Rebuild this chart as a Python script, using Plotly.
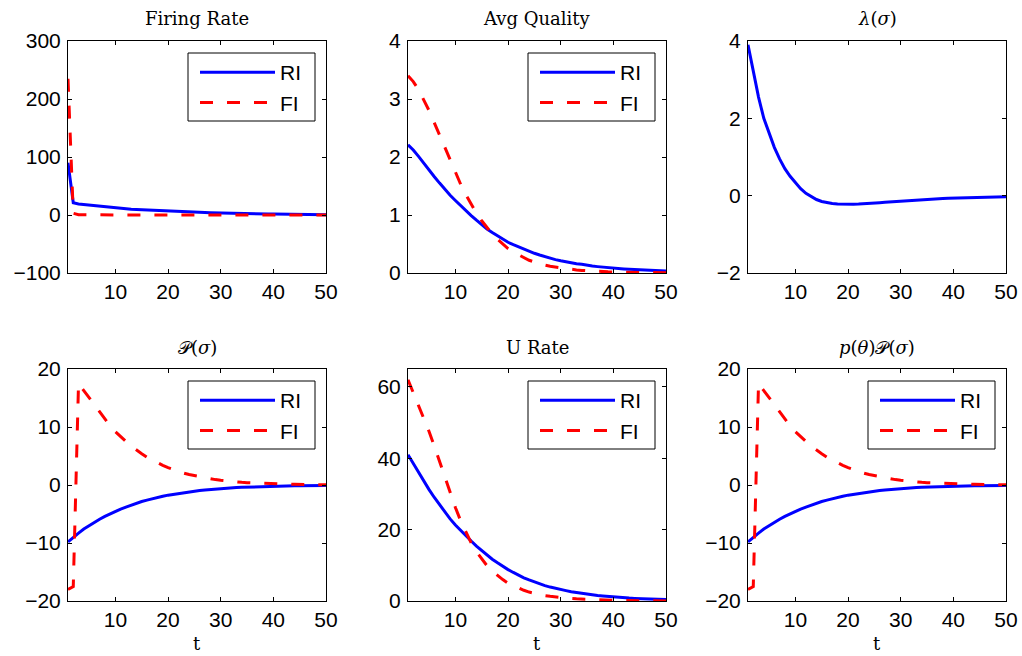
import plotly.graph_objects as go

W, H = 1022, 656

t = list(range(1, 51))

firing_ri = [90, 21, 19, 18, 17, 16, 15, 14, 13, 12, 11.5, 11, 10, 9.5, 9, 8.5, 8, 7.5, 7, 6.5,
             6, 5.7, 5.3, 5, 4.7, 4.4, 4.1, 3.8, 3.5, 3.3, 3.1, 2.9, 2.7, 2.5, 2.3, 2.2, 2.0, 1.9, 1.8, 1.7,
             1.5, 1.4, 1.3, 1.2, 1.1, 1.0, 0.9, 0.8, 0.7, 0.6]
firing_fi = [235, 3, 0.5, 0.3, 0.2, 0.1, 0.1, 0.05, 0.05, 0, 0, 0, 0, 0, 0, 0, 0, 0, 0, 0,
             0, 0, 0, 0, 0, 0, 0, 0, 0, 0, 0, 0, 0, 0, 0, 0, 0, 0, 0, 0,
             0, 0, 0, 0, 0, 0, 0, 0, 0, 0]

quality_ri = [2.21, 2.12, 2.01, 1.90, 1.78, 1.66, 1.55, 1.44, 1.34, 1.25, 1.16, 1.07, 0.99, 0.91, 0.83,
              0.76, 0.70, 0.64, 0.58, 0.53, 0.49, 0.45, 0.41, 0.37, 0.34, 0.31, 0.28, 0.26, 0.23, 0.21,
              0.19, 0.18, 0.16, 0.15, 0.13, 0.12, 0.11, 0.10, 0.09, 0.085, 0.078, 0.07, 0.064, 0.058,
              0.053, 0.048, 0.044, 0.04, 0.036, 0.033]
quality_fi = [3.40, 3.30, 3.16, 2.99, 2.80, 2.59, 2.38, 2.16, 1.94, 1.73, 1.53, 1.35, 1.18, 1.03, 0.90,
              0.78, 0.67, 0.58, 0.50, 0.42, 0.36, 0.31, 0.26, 0.22, 0.19, 0.16, 0.135, 0.115, 0.10, 0.085,
              0.072, 0.062, 0.053, 0.045, 0.038, 0.033, 0.028, 0.024, 0.02, 0.017, 0.015, 0.013, 0.011,
              0.009, 0.008, 0.007, 0.006, 0.005, 0.004, 0.004]

lambda_ri = [3.9, 3.2, 2.55, 2.0, 1.6, 1.25, 0.95, 0.7, 0.5, 0.33, 0.18, 0.06, -0.03, -0.1, -0.15,
             -0.18, -0.2, -0.215, -0.22, -0.225, -0.22, -0.215, -0.21, -0.2, -0.19, -0.18, -0.17, -0.16,
             -0.15, -0.14, -0.13, -0.12, -0.11, -0.1, -0.095, -0.09, -0.08, -0.075, -0.07, -0.065,
             -0.06, -0.055, -0.05, -0.045, -0.04, -0.04, -0.035, -0.03, -0.03, -0.025]

p_ri = [-9.8, -9.0, -8.3, -7.6, -7.0, -6.4, -5.9, -5.4, -4.95, -4.55, -4.15, -3.8, -3.45, -3.15, -2.85,
        -2.6, -2.35, -2.15, -1.95, -1.75, -1.6, -1.45, -1.3, -1.18, -1.06, -0.95, -0.86, -0.77, -0.69,
        -0.62, -0.56, -0.5, -0.45, -0.4, -0.36, -0.32, -0.29, -0.26, -0.23, -0.21, -0.19, -0.17, -0.15,
        -0.13, -0.12, -0.11, -0.1, -0.09, -0.08, -0.07]
p_fi = [-18, -17.5, 17.5, 16.3, 15.0, 13.7, 12.5, 11.3, 10.2, 9.2, 8.3, 7.5, 6.7, 6.0, 5.4, 4.8, 4.3,
        3.8, 3.4, 3.0, 2.65, 2.35, 2.05, 1.8, 1.6, 1.4, 1.22, 1.07, 0.93, 0.81, 0.7, 0.61, 0.53, 0.46,
        0.4, 0.35, 0.3, 0.26, 0.22, 0.19, 0.17, 0.14, 0.12, 0.11, 0.09, 0.08, 0.07, 0.06, 0.05, 0.04]

urate_ri = [41, 38.5, 36, 33.5, 31.2, 29, 26.9, 24.9, 23.0, 21.3, 19.7, 18.2, 16.8, 15.4, 14.1, 12.9,
            11.7, 10.7, 9.7, 8.8, 8.0, 7.2, 6.5, 5.9, 5.3, 4.8, 4.3, 3.9, 3.5, 3.2, 2.9, 2.6, 2.35, 2.1,
            1.9, 1.7, 1.55, 1.4, 1.25, 1.12, 1.0, 0.9, 0.81, 0.73, 0.66, 0.59, 0.53, 0.48, 0.43, 0.39]
urate_fi = [62, 58.5, 55, 51.3, 47.5, 43.4, 39.2, 35.0, 30.2, 26.2, 22.5, 19.2, 16.3, 13.8, 11.7, 9.9,
            8.4, 7.1, 6.0, 5.0, 4.3, 3.6, 3.0, 2.5, 2.1, 1.8, 1.5, 1.3, 1.1, 0.95, 0.82, 0.7, 0.6, 0.52,
            0.44, 0.37, 0.31, 0.26, 0.22, 0.18, 0.15, 0.13, 0.11, 0.09, 0.08, 0.07, 0.06, 0.05, 0.04, 0.035]

titles = ["Firing Rate", "Avg Quality", "<i>λ</i>(<i>σ</i>)",
          "𝒫(<i>σ</i>)", "U Rate", "<i>p</i>(<i>θ</i>)𝒫(<i>σ</i>)"]
y_ranges = [[-100, 300], [0, 4], [-2, 4], [-20, 20], [0, 65], [-20, 20]]
y_ticks = [[-100, 0, 100, 200, 300], [0, 1, 2, 3, 4], [-2, 0, 2, 4],
           [-20, -10, 0, 10, 20], [0, 20, 40, 60], [-20, -10, 0, 10, 20]]
x_ticks = [10, 20, 30, 40, 50]
series_names = ["RI", "FI"]

panels = [
    (firing_ri, firing_fi),
    (quality_ri, quality_fi),
    (lambda_ri, None),
    (p_ri, p_fi),
    (urate_ri, urate_fi),
    (p_ri, p_fi),
]

# pixel boxes of axes in the page: (left, right, top, bottom)
cols = [(68, 326), (408, 666), (748, 1006)]
rows = [(41, 273), (369, 601)]


def px(xp):
    return xp / W


def py(yp):
    return 1 - yp / H


BLUE = "#0000ff"
RED = "#ff0000"
SANS = "Liberation Sans, Arial, sans-serif"
TICKFONT = dict(family=SANS, size=21, color="black")
SERIF = "DejaVu Serif, Liberation Serif, serif"

fig = go.Figure()
layout = dict(
    width=W, height=H,
    margin=dict(l=0, r=0, t=0, b=0, pad=0, autoexpand=False),
    paper_bgcolor="white", plot_bgcolor="white",
    annotations=[], shapes=[],
)

legend_idx = 0
for i in range(6):
    r, c = divmod(i, 3)
    left, right = cols[c]
    top, bottom = rows[r]
    ax = "" if i == 0 else str(i + 1)
    ri, fi = panels[i]
    lg = None
    if fi is not None:
        legend_idx += 1
        lg = "legend" if legend_idx == 1 else "legend%d" % legend_idx
    fig.add_trace(go.Scatter(
        x=t, y=ri, mode="lines", name=series_names[0],
        line=dict(color=BLUE, width=3),
        xaxis="x" + ax, yaxis="y" + ax,
        showlegend=fi is not None, legend=lg if lg else "legend",
        legendgroup="ri%d" % i,
    ))
    if fi is not None:
        fig.add_trace(go.Scatter(
            x=t, y=fi, mode="lines", name=series_names[1],
            line=dict(color=RED, width=3, dash="13px,14px"),
            xaxis="x" + ax, yaxis="y" + ax,
            legend=lg, legendgroup="fi%d" % i,
        ))
        bx0, by0 = left + 120, top + 12
        bx1, by1 = bx0 + 127, by0 + 68
        layout["shapes"].append(dict(
            type="rect", xref="paper", yref="paper", layer="above",
            x0=px(bx0), x1=px(bx1), y0=py(by0), y1=py(by1),
            fillcolor="white", line=dict(color="black", width=1),
        ))
        layout[lg] = dict(
            x=px(bx0 + 7), y=py(by0 - 1),
            xanchor="left", yanchor="top",
            xref="paper", yref="paper",
            bgcolor="rgba(0,0,0,0)", borderwidth=0,
            font=dict(family=SANS, size=21, color="black"),
            itemwidth=75, traceorder="grouped", tracegroupgap=0,
        )
    layout["xaxis" + ax] = dict(
        domain=[px(left), px(right)], range=[1, 50],
        anchor="y" + ax, automargin=False,
        tickmode="array", tickvals=x_ticks,
        ticks="inside", ticklen=4, tickcolor="black", tickwidth=1,
        showline=True, linecolor="black", linewidth=1, mirror="ticks",
        showgrid=False, zeroline=False, tickfont=TICKFONT,
        ticklabeloverflow="allow",
    )
    layout["yaxis" + ax] = dict(
        domain=[py(bottom), py(top)], range=y_ranges[i],
        anchor="x" + ax, automargin=False,
        tickmode="array", tickvals=y_ticks[i],
        ticktext=[str(v).replace("-", "\u2212") for v in y_ticks[i]],
        ticks="inside", ticklen=4, tickcolor="black", tickwidth=1,
        showline=True, linecolor="black", linewidth=1, mirror="ticks",
        showgrid=False, zeroline=False, tickfont=TICKFONT,
        ticklabelstandoff=2, ticklabeloverflow="allow",
    )
    cx = px((left + right) / 2)
    layout["annotations"].append(dict(
        text=titles[i], x=cx, y=py(top - 22),
        xref="paper", yref="paper", xanchor="center", yanchor="middle",
        showarrow=False, font=dict(family=SERIF, size=18, color="black"),
    ))
    if r == 1:
        layout["annotations"].append(dict(
            text="t", x=cx, y=py(643),
            xref="paper", yref="paper", xanchor="center", yanchor="middle",
            showarrow=False, font=dict(family=SERIF, size=18, color="black"),
        ))

fig.update_layout(**layout)
fig.write_html(
    "out.html",
    config={"displayModeBar": False, "staticPlot": True},
    post_script="document.body.style.margin='0';document.body.style.overflow='hidden';",
)
